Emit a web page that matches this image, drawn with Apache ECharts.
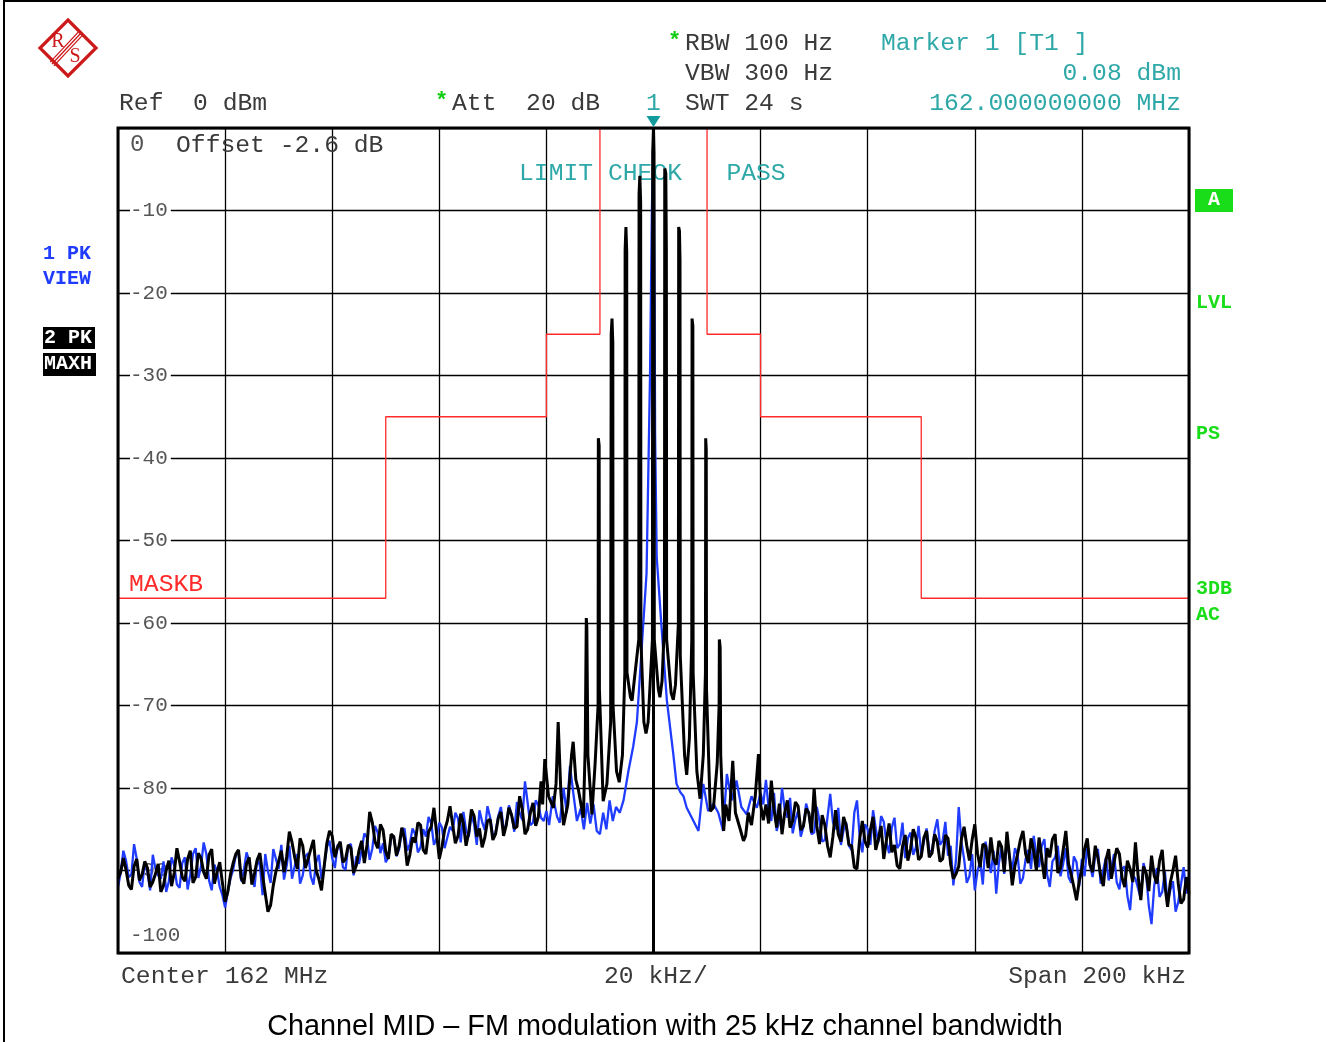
<!DOCTYPE html>
<html><head><meta charset="utf-8">
<script src="https://cdn.jsdelivr.net/npm/echarts@6/dist/echarts.min.js"></script>
<style>html,body{margin:0;padding:0;background:#fff}#c{width:1326px;height:1042px}</style>
</head><body><div id="c"></div>
<script>
// ---------- data (frequency offset in kHz from 162 MHz, level in dBm) ----------
const xTickStep = 20;            // kHz per division
const yTickValues = [0,-10,-20,-30,-40,-50,-60,-70,-80,-90,-100];
const maskFreq  = [-100,-50,-20,-10, 10, 20, 50,100];
const maskLevel = [ -57,-35,-25,  0,-25,-35,-57,-57];
const markerFreq = [0];
const markerLevel = [0.08];

// Trace 1 (blue, PK VIEW)
const trace1Left = [[-100,-92.0],[-99,-87.6],[-98,-90.8],[-97,-86.8],[-96,-91.4],[-95,-89.0],[-94,-92.4],[-93,-89.8],[-92,-91.0],[-91,-92.6],[-90,-88.4],[-89,-91.7],[-88,-89.1],[-87,-92.3],[-86,-88.0],[-85,-90.9],[-84,-86.6],[-83,-91.2],[-82,-89.3],[-81,-92.0],[-80,-94.5],[-79,-91.0],[-78,-88.2],[-77,-91.3],[-76,-87.8],[-75,-90.9],[-74,-88.5],[-73,-93.0],[-72,-90.1],[-71,-87.4],[-70,-89.8],[-69,-91.1],[-68,-87.0],[-67,-89.5],[-66,-91.6],[-65,-88.3],[-64,-90.7],[-63,-89.0],[-62,-91.0],[-61,-87.2],[-60,-88.5],[-59,-86.9],[-58,-89.6],[-57,-87.0],[-56,-90.6],[-55,-89.2],[-54,-85.5],[-53,-88.7],[-52,-84.6],[-51,-87.9],[-50,-89.0],[-49,-86.1],[-48,-88.3],[-47,-85.2],[-46,-87.6],[-45,-84.9],[-44,-87.8],[-43,-85.0],[-42,-83.5],[-41,-86.9],[-40,-84.2],[-39,-87.3],[-38,-84.7],[-37,-83.0],[-36,-86.6],[-35,-85.1],[-34,-83.2],[-33,-86.9],[-32,-84.1],[-31,-82.2],[-30,-85.7],[-29,-83.4],[-28,-84.8],[-27,-82.1],[-26,-85.3],[-25,-83.0],[-24,-79.2],[-23,-84.5],[-22,-81.5],[-21,-83.6],[-20,-82.8]];
const trace1LeftMid = [[-99.5,-90.3],[-98.5,-88.8],[-97.5,-90.5],[-96.5,-88.6],[-95.5,-92.0],[-94.5,-90.2],[-93.5,-88.1],[-92.5,-90.6],[-91.5,-88.9],[-90.5,-91.3],[-89.5,-89.4],[-88.5,-92.1],[-87.5,-88.4],[-86.5,-90.5],[-85.5,-87.3],[-84.5,-89.5],[-83.5,-88.0],[-82.5,-92.4],[-81.5,-90.1],[-80.5,-93.0],[-79.5,-92.6],[-78.5,-89.9],[-77.5,-87.6],[-76.5,-90.0],[-75.5,-88.8],[-74.5,-92.0],[-73.5,-89.4],[-72.5,-88.0],[-71.5,-91.5],[-70.5,-88.6],[-69.5,-86.9],[-68.5,-89.4],[-67.5,-91.0],[-66.5,-88.0],[-65.5,-90.6],[-64.5,-87.9],[-63.5,-91.7],[-62.5,-88.1],[-61.5,-89.6],[-60.5,-86.4],[-59.5,-89.7],[-58.5,-87.1],[-57.5,-89.9],[-56.5,-86.8],[-55.5,-88.3],[-54.5,-87.5],[-53.5,-86.0],[-52.5,-87.3],[-51.5,-85.4],[-50.5,-86.7],[-49.5,-88.4],[-48.5,-85.8],[-47.5,-87.4],[-46.5,-84.9],[-45.5,-86.8],[-44.5,-85.6],[-43.5,-87.2],[-42.5,-85.9],[-41.5,-84.3],[-40.5,-86.1],[-39.5,-84.8],[-38.5,-86.0],[-37.5,-85.2],[-36.5,-83.7],[-35.5,-82.9],[-34.5,-85.9],[-33.5,-84.4],[-32.5,-82.7],[-31.5,-85.1],[-30.5,-83.6],[-29.5,-85.5],[-28.5,-82.3],[-27.5,-84.6],[-26.5,-83.2],[-25.5,-81.7],[-24.5,-83.9],[-23.5,-81.8],[-22.5,-84.2],[-21.5,-82.1],[-20.5,-84.0]];
const trace1Center = [[-19.5,-84.5],[-18.8,-81.0],[-18.0,-83.5],[-17.5,-84.2],[-16.8,-80.0],[-16.2,-83.0],[-15.6,-77.3],[-15.0,-80.5],[-14.3,-84.0],[-13.6,-82.5],[-13.0,-85.0],[-12.4,-81.8],[-11.8,-84.3],[-11.2,-82.0],[-10.6,-85.2],[-10.0,-85.6],[-9.4,-83.0],[-8.8,-85.0],[-8.2,-81.5],[-7.6,-84.0],[-7.0,-82.3],[-6.3,-83.0],[-5.6,-81.5],[-4.7,-78.0],[-3.8,-75.0],[-3.1,-72.0],[-2.5,-66.0],[-1.3,-54.0],[-0.65,-30.0],[-0.3,-10.0],[0,0.08],[0.2,-20.0],[0.3,-37.0],[0.6,-52.0],[1.5,-60.5],[2.5,-69.4],[3.7,-75.9],[4.3,-79.5],[5.0,-80.5],[5.6,-81.0],[6.2,-82.4],[7.3,-83.8],[8.4,-85.2],[9.3,-79.5],[10.2,-82.8],[11.2,-81.9],[12.1,-83.0],[13.0,-85.2],[13.7,-78.3],[14.6,-81.5],[15.5,-79.1],[16.4,-82.3],[17.4,-83.2],[18.3,-81.0],[19.3,-82.4],[20.0,-80.6]];
const trace1Right = [[21,-79.0],[22,-84.0],[23,-85.2],[24,-80.0],[25,-83.6],[26,-85.5],[27,-82.8],[28,-84.7],[29,-83.1],[30,-85.4],[31,-84.0],[32,-86.3],[33,-80.7],[34,-85.0],[35,-86.9],[36,-84.2],[37,-87.5],[38,-81.5],[39,-87.8],[40,-85.0],[41,-82.7],[42,-86.6],[43,-84.1],[44,-87.9],[45,-83.6],[46,-86.8],[47,-88.5],[48,-85.4],[49,-87.2],[50,-88.0],[51,-84.9],[52,-87.7],[53,-83.8],[54,-86.4],[55,-88.2],[56,-91.8],[57,-82.3],[58,-88.6],[59,-90.7],[60,-92.4],[61,-88.9],[62,-86.5],[63,-90.3],[64,-92.8],[65,-87.1],[66,-86.3],[67,-89.9],[68,-88.2],[69,-90.9],[70,-87.5],[71,-85.8],[72,-89.6],[73,-86.2],[74,-92.0],[75,-88.4],[76,-90.7],[77,-87.3],[78,-91.5],[79,-89.0],[80,-88.6],[81,-86.9],[82,-90.8],[83,-87.4],[84,-89.9],[85,-91.2],[86,-88.0],[87,-92.3],[88,-89.5],[89,-94.8],[90,-91.0],[91,-93.4],[92,-90.5],[93,-96.5],[94,-89.7],[95,-92.6],[96,-94.0],[97,-91.3],[98,-93.8],[99,-89.6],[100,-91.0]];
const trace1RightMid = [[20.5,-82.0],[21.5,-82.5],[22.5,-80.6],[23.5,-83.9],[24.5,-82.6],[25.5,-81.2],[26.5,-83.8],[27.5,-85.9],[28.5,-81.9],[29.5,-85.6],[30.5,-82.3],[31.5,-86.5],[32.5,-83.5],[33.5,-84.1],[34.5,-82.4],[35.5,-85.1],[36.5,-87.0],[37.5,-83.0],[38.5,-85.9],[39.5,-84.4],[40.5,-86.9],[41.5,-84.9],[42.5,-83.4],[43.5,-86.6],[44.5,-84.8],[45.5,-87.3],[46.5,-84.2],[47.5,-86.1],[48.5,-88.1],[49.5,-84.6],[50.5,-86.5],[51.5,-87.6],[52.5,-85.2],[53.5,-86.9],[54.5,-84.1],[55.5,-87.0],[56.5,-88.6],[57.5,-86.5],[58.5,-91.5],[59.5,-88.0],[60.5,-90.1],[61.5,-91.7],[62.5,-88.3],[63.5,-87.6],[64.5,-89.1],[65.5,-90.4],[66.5,-88.5],[67.5,-87.3],[68.5,-91.6],[69.5,-88.6],[70.5,-89.8],[71.5,-88.1],[72.5,-87.0],[73.5,-90.5],[74.5,-88.9],[75.5,-87.0],[76.5,-89.2],[77.5,-90.8],[78.5,-88.3],[79.5,-91.9],[80.5,-90.7],[81.5,-89.3],[82.5,-88.1],[83.5,-91.6],[84.5,-88.4],[85.5,-89.7],[86.5,-91.4],[87.5,-89.8],[88.5,-93.1],[89.5,-90.6],[90.5,-92.2],[91.5,-89.1],[92.5,-94.3],[93.5,-91.9],[94.5,-93.2],[95.5,-90.1],[96.5,-92.4],[97.5,-95.0],[98.5,-91.7],[99.5,-92.8]];

// Trace 2 (black, PK MAXH)
const trace2Left = [[-100,-91.0],[-99,-88.5],[-98,-91.8],[-97,-89.5],[-96,-91.2],[-95,-88.9],[-94,-92.0],[-93,-90.4],[-92,-92.6],[-91,-90.0],[-90,-91.9],[-89,-87.3],[-88,-90.8],[-87,-88.6],[-86,-91.5],[-85,-87.9],[-84,-90.2],[-83,-88.1],[-82,-91.6],[-81,-89.0],[-80,-93.8],[-79,-90.5],[-78,-88.0],[-77,-90.9],[-76,-89.2],[-75,-91.7],[-74,-88.7],[-73,-90.6],[-72,-95.0],[-71,-91.8],[-70,-88.9],[-69,-90.2],[-68,-85.3],[-67,-88.4],[-66,-86.1],[-65,-89.7],[-64,-87.4],[-63,-90.0],[-62,-92.4],[-61,-86.7],[-60,-85.8],[-59,-87.2],[-58,-89.0],[-57,-86.9],[-56,-90.3],[-55,-87.6],[-54,-89.1],[-53,-82.9],[-52,-86.5],[-51,-84.4],[-50,-87.7],[-49,-85.6],[-48,-88.2],[-47,-84.8],[-46,-89.4],[-45,-86.0],[-44,-84.2],[-43,-87.5],[-42,-85.3],[-41,-82.4],[-40,-88.6],[-39,-85.1],[-38,-82.2],[-37,-86.7],[-36,-83.1],[-35,-87.0],[-34,-82.6],[-33,-85.9],[-32,-87.2],[-31,-84.0],[-30,-86.3],[-29,-83.7],[-28,-85.8],[-27,-82.4],[-26,-84.9],[-25,-81.0],[-24,-85.6],[-23,-83.0],[-22,-84.6],[-21,-79.2]];
const trace2LeftMid = [[-99.5,-90.2],[-98.5,-89.9],[-97.5,-92.3],[-96.5,-88.6],[-95.5,-90.5],[-94.5,-89.7],[-93.5,-91.4],[-92.5,-89.2],[-91.5,-91.8],[-90.5,-88.8],[-89.5,-90.3],[-88.5,-88.9],[-87.5,-91.3],[-86.5,-87.6],[-85.5,-90.8],[-84.5,-88.5],[-83.5,-91.0],[-82.5,-87.4],[-81.5,-90.2],[-80.5,-91.5],[-79.5,-92.6],[-78.5,-89.1],[-77.5,-87.5],[-76.5,-91.6],[-75.5,-88.4],[-74.5,-90.3],[-73.5,-87.9],[-72.5,-92.8],[-71.5,-94.2],[-70.5,-90.1],[-69.5,-87.6],[-68.5,-88.3],[-67.5,-86.6],[-66.5,-89.8],[-65.5,-87.0],[-64.5,-88.6],[-63.5,-86.3],[-62.5,-91.0],[-61.5,-89.5],[-60.5,-85.2],[-59.5,-88.4],[-58.5,-86.5],[-57.5,-88.6],[-56.5,-87.3],[-55.5,-89.4],[-54.5,-86.4],[-53.5,-86.9],[-52.5,-84.2],[-51.5,-87.3],[-50.5,-85.1],[-49.5,-88.6],[-48.5,-85.9],[-47.5,-87.0],[-46.5,-86.2],[-45.5,-88.1],[-44.5,-86.6],[-43.5,-84.5],[-42.5,-88.0],[-41.5,-84.7],[-40.5,-85.5],[-39.5,-87.1],[-38.5,-84.0],[-37.5,-84.5],[-36.5,-85.8],[-35.5,-84.3],[-34.5,-85.4],[-33.5,-83.4],[-32.5,-84.9],[-31.5,-86.0],[-30.5,-83.8],[-29.5,-85.6],[-28.5,-82.9],[-27.5,-84.5],[-26.5,-83.3],[-25.5,-84.7],[-24.5,-82.6],[-23.5,-85.0],[-22.5,-81.8],[-21.5,-83.5],[-20.7,-82.0]];
const trace2Center = [[-20.3,-76.5],[-19.6,-81.0],[-18.7,-82.4],[-18.2,-79.5],[-17.8,-72.0],[-17.3,-80.5],[-16.8,-84.5],[-16.0,-82.0],[-15.3,-76.0],[-15.0,-74.4],[-14.5,-79.0],[-14.0,-80.3],[-13.1,-83.6],[-12.75,-75.0],[-12.55,-59.4],[-12.45,-60.5],[-12.25,-76.0],[-11.5,-83.2],[-10.9,-77.0],[-10.35,-70.0],[-10.3,-37.6],[-10.15,-38.5],[-10.1,-68.0],[-9.4,-81.6],[-8.7,-79.5],[-8.0,-72.0],[-7.9,-25.0],[-7.75,-23.1],[-7.6,-26.0],[-7.55,-70.0],[-6.9,-78.0],[-6.4,-79.3],[-5.8,-76.0],[-5.35,-66.0],[-5.3,-14.8],[-5.15,-12.0],[-5.0,-15.0],[-4.95,-66.0],[-4.3,-69.0],[-4.0,-69.4],[-3.6,-67.0],[-2.75,-62.0],[-2.7,-8.0],[-2.55,-5.8],[-2.4,-9.0],[-2.35,-62.0],[-1.8,-72.0],[-1.4,-73.4],[-1.0,-72.0],[-0.2,-62.0],[-0.15,-3.0],[0,0.08],[0.1,-3.0],[0.15,-62.0],[0.9,-68.0],[1.2,-69.0],[1.6,-67.0],[2.05,-60.0],[2.1,-4.9],[2.3,-5.5],[2.4,-14.8],[2.45,-62.0],[3.3,-68.5],[3.7,-69.3],[4.1,-67.5],[4.65,-60.0],[4.7,-12.0],[4.85,-12.5],[4.95,-16.0],[5.0,-64.0],[5.8,-76.0],[6.2,-78.4],[6.7,-74.0],[7.15,-62.0],[7.2,-23.1],[7.35,-24.0],[7.4,-66.0],[8.1,-78.0],[8.7,-81.3],[9.3,-76.0],[9.7,-66.0],[9.75,-37.6],[9.85,-39.0],[9.9,-68.0],[10.6,-82.8],[11.2,-82.4],[11.9,-77.0],[12.25,-70.0],[12.3,-62.0],[12.45,-63.0],[12.55,-76.0],[13.1,-85.2],[13.5,-82.0],[14.1,-84.0],[14.8,-76.7],[15.3,-83.0],[16.2,-85.0],[16.8,-86.4],[17.2,-85.8],[17.7,-83.0],[18.3,-84.5],[19.0,-81.0],[19.6,-75.9],[20.0,-82.0],[20.5,-83.9]];
const trace2Right = [[21,-82.0],[22,-79.1],[23,-84.8],[24,-85.6],[25,-81.5],[26,-84.0],[27,-82.2],[28,-84.6],[29,-83.0],[30,-80.0],[31,-86.8],[32,-84.5],[33,-88.4],[34,-82.7],[35,-86.5],[36,-84.6],[37,-87.0],[38,-89.8],[39,-84.0],[40,-87.2],[41,-83.5],[42,-86.2],[43,-88.6],[44,-84.3],[45,-86.9],[46,-89.8],[47,-85.7],[48,-87.4],[49,-86.0],[50,-88.3],[51,-85.2],[52,-87.9],[53,-86.5],[54,-88.6],[55,-86.1],[56,-91.0],[57,-89.5],[58,-84.7],[59,-88.8],[60,-84.4],[61,-89.6],[62,-87.0],[63,-86.0],[64,-89.3],[65,-87.1],[66,-85.3],[67,-91.8],[68,-88.0],[69,-85.2],[70,-89.1],[71,-87.6],[72,-86.0],[73,-91.0],[74,-88.4],[75,-85.6],[76,-89.7],[77,-85.2],[78,-90.5],[79,-93.6],[80,-89.8],[81,-86.1],[82,-90.2],[83,-88.5],[84,-91.9],[85,-87.4],[86,-89.0],[87,-88.0],[88,-92.0],[89,-89.8],[90,-86.6],[91,-93.6],[92,-90.3],[93,-88.2],[94,-91.6],[95,-87.5],[96,-94.4],[97,-90.0],[98,-91.6],[99,-93.5],[100,-92.8]];
const trace2RightMid = [[21.5,-84.3],[22.5,-82.6],[23.5,-81.9],[24.5,-83.0],[25.5,-84.8],[26.5,-81.7],[27.5,-85.1],[28.5,-82.5],[29.5,-85.4],[30.5,-84.6],[31.5,-83.3],[32.5,-87.0],[33.5,-85.9],[34.5,-85.6],[35.5,-83.5],[36.5,-86.9],[37.5,-89.6],[38.5,-86.2],[39.5,-86.5],[40.5,-85.1],[41.5,-87.5],[42.5,-84.6],[43.5,-86.3],[44.5,-87.8],[45.5,-89.4],[46.5,-87.1],[47.5,-88.8],[48.5,-85.0],[49.5,-88.7],[50.5,-86.0],[51.5,-88.4],[52.5,-85.6],[53.5,-88.9],[54.5,-85.7],[55.5,-89.3],[56.5,-90.4],[57.5,-86.2],[58.5,-87.0],[59.5,-86.3],[60.5,-87.9],[61.5,-86.8],[62.5,-89.7],[63.5,-88.6],[64.5,-86.4],[65.5,-90.2],[66.5,-88.4],[67.5,-89.4],[68.5,-86.3],[69.5,-88.0],[70.5,-86.1],[71.5,-90.0],[72.5,-88.5],[73.5,-87.3],[74.5,-86.2],[75.5,-90.3],[76.5,-87.5],[77.5,-89.2],[78.5,-92.0],[79.5,-91.3],[80.5,-87.4],[81.5,-89.3],[82.5,-87.0],[83.5,-90.6],[84.5,-88.7],[85.5,-91.0],[86.5,-87.3],[87.5,-90.9],[88.5,-88.8],[89.5,-91.4],[90.5,-90.7],[91.5,-89.5],[92.5,-92.5],[93.5,-90.6],[94.5,-88.8],[95.5,-91.8],[96.5,-91.5],[97.5,-88.2],[98.5,-94.0],[99.5,-90.8]];

// ---------- chart ----------
const MONO = '"Liberation Mono", "DejaVu Sans Mono", monospace';
const MONO_FONT = '24.7px ' + MONO;
const GRAY = '#3a3a3a', TEAL = '#2fa8a8', GREEN = '#19dd19', BLUE = '#1f3cff', RED = '#ff2a2a';
const chart = echarts.init(document.getElementById('c'), null, {renderer: 'canvas'});

const byFreq = (a, b) => a[0] - b[0];
const maskData = maskFreq.map((f, i) => [f, maskLevel[i]]);
const trace1 = trace1Left.concat(trace1LeftMid, trace1Center, trace1Right, trace1RightMid).sort(byFreq);
const trace2 = trace2Left.concat(trace2LeftMid, trace2Center, trace2Right, trace2RightMid).sort(byFreq);

chart.setOption({
  animation: false,
  backgroundColor: '#fff',
  grid: {left: 118, top: 128, width: 1071, height: 825, show: true, borderColor: '#000', borderWidth: 3, backgroundColor: 'transparent', z: 5},
  xAxis: {type: 'value', min: -100, max: 100, interval: xTickStep,
    axisLine: {show: false}, axisTick: {show: false}, axisLabel: {show: false},
    splitLine: {show: true, lineStyle: {color: '#000', width: 1.3}}},
  yAxis: {type: 'value', min: -100, max: 0, interval: 10,
    axisLine: {show: false}, axisTick: {show: false},
    splitLine: {show: true, lineStyle: {color: '#000', width: 1.3}},
    axisLabel: {inside: true, margin: 12, color: '#555', fontFamily: MONO, fontSize: 21,
      formatter: v => v === yTickValues[0] ? '{t|' + v + '}' : (v === yTickValues[yTickValues.length-1] ? '{b|' + v + '}' : '{n|' + v + '}'),
      rich: {
        n: {fontFamily: MONO, fontSize: 21, color: '#555', backgroundColor: '#fff', padding: [0, 3, 0, 0]},
        t: {fontFamily: MONO, fontSize: 24, color: '#555', padding: [34, 0, 0, 0]},
        b: {fontFamily: MONO, fontSize: 21, color: '#555', padding: [0, 0, 36, 0]}
      }}},
  series: [
    {type: 'line', name: 'mask', data: maskData, step: 'end', showSymbol: false, symbol: 'none',
      lineStyle: {color: RED, width: 1.3}, z: 2, silent: true},
    {type: 'line', name: 'trace1', data: trace1, showSymbol: false, symbol: 'none',
      lineStyle: {color: BLUE, width: 2.3}, z: 3, silent: true},
    {type: 'line', name: 'trace2', data: trace2, showSymbol: false, symbol: 'none',
      lineStyle: {color: '#000', width: 3}, z: 4, silent: true,
      markLine: {silent: true, symbol: 'none', label: {show: false},
        lineStyle: {color: '#000', width: 3, type: 'solid'},
        data: [{xAxis: markerFreq[0]}]}}
  ]
});

const mx = chart.convertToPixel({xAxisIndex: 0}, markerFreq[0]);
function T(text, x, y, opt) {
  opt = opt || {};
  return {type: 'text', z: opt.z == null ? 10 : opt.z, silent: true,
    style: {text: text, x: x, y: y, fill: opt.fill || GRAY,
      font: opt.font || MONO_FONT, align: opt.align || 'left', textAlign: opt.align || 'left',
      verticalAlign: 'middle', textVerticalAlign: 'middle'}};
}
const boldSide = 'bold 20px ' + MONO;
const ln = [];
const cx = 68, cy = 48;
[-2.6, 0, 2.6].forEach(o => {
  const d = o / Math.SQRT2;
  ln.push({type: 'line', silent: true, z: 10, shape: {x1: 81 + d, y1: 33 + d, x2: 52 + d, y2: 64 + d}, style: {stroke: '#cc1a1a', lineWidth: 1.3}});
});
const graphics = [
  // page border
  {type: 'line', silent: true, z: 10, shape: {x1: 4, y1: 0, x2: 4, y2: 1042}, style: {stroke: '#000', lineWidth: 2}},
  {type: 'line', silent: true, z: 10, shape: {x1: 3, y1: 1, x2: 1326, y2: 1}, style: {stroke: '#000', lineWidth: 2}},
  // logo
  {type: 'polygon', silent: true, z: 10, shape: {points: [[cx, 20], [96, cy], [cx, 76], [40, cy]]}, style: {fill: 'none', stroke: '#cc1a1a', lineWidth: 3.2}},
  ...ln,
  T('R', 58, 42, {fill: '#cc1a1a', font: '20px "Liberation Serif", serif', align: 'center'}),
  T('S', 75, 57, {fill: '#cc1a1a', font: '20px "Liberation Serif", serif', align: 'center'}),
  // header
  T('*', 668, 41, {fill: '#11cc11', font: 'bold 22px ' + MONO}),
  T('RBW 100 Hz', 685, 43),
  T('VBW 300 Hz', 685, 73),
  T('SWT 24 s', 685, 103),
  T('Marker 1 [T1 ]', 881, 43, {fill: TEAL}),
  T(markerLevel[0].toFixed(2) + ' dBm', 1181, 73, {fill: TEAL, align: 'right'}),
  T('162.000000000 MHz', 1181, 103, {fill: TEAL, align: 'right'}),
  T('Ref  0 dBm', 119, 103),
  T('*', 435, 101, {fill: '#11cc11', font: 'bold 22px ' + MONO}),
  T('Att  20 dB', 452, 103),
  T('1', mx, 103, {fill: TEAL, align: 'center'}),
  {type: 'polygon', silent: true, z: 12, shape: {points: [[mx - 7, 116], [mx + 7, 116], [mx, 127]]}, style: {fill: '#139b9b'}},
  // inside plot
  T('Offset -2.6 dB', 176, 145, {fill: GRAY, z: 1}),
  T('LIMIT CHECK   PASS', 519, 173, {fill: TEAL, z: 1}),
  T('MASKB', 129, 584, {fill: RED, z: 1}),
  // left side
  T('1 PK', 43, 254, {fill: BLUE, font: boldSide}),
  T('VIEW', 43, 279, {fill: BLUE, font: boldSide}),
  {type: 'rect', silent: true, z: 10, shape: {x: 43, y: 327, width: 52, height: 22}, style: {fill: '#000'}},
  T('2 PK', 44, 338, {fill: '#fff', font: boldSide, z: 11}),
  {type: 'rect', silent: true, z: 10, shape: {x: 43, y: 353, width: 53, height: 23}, style: {fill: '#000'}},
  T('MAXH', 44, 364, {fill: '#fff', font: boldSide, z: 11}),
  // right side
  {type: 'rect', silent: true, z: 10, shape: {x: 1195, y: 189, width: 38, height: 23}, style: {fill: '#19dd19'}},
  T('A', 1214, 200, {fill: '#fff', font: boldSide, align: 'center', z: 11}),
  T('LVL', 1196, 303, {fill: GREEN, font: boldSide}),
  T('PS', 1196, 434, {fill: GREEN, font: boldSide}),
  T('3DB', 1196, 589, {fill: GREEN, font: boldSide}),
  T('AC', 1196, 615, {fill: GREEN, font: boldSide}),
  // bottom
  T('Center 162 MHz', 121, 976),
  T(xTickStep + ' kHz/', 604, 976),
  T('Span 200 kHz', 1186, 976, {align: 'right'}),
  T('Channel MID \u2013 FM modulation with 25 kHz channel bandwidth', 665, 1027,
    {fill: '#000', font: '28.8px "Liberation Sans", Arial, sans-serif', align: 'center'})
];
chart.setOption({graphic: graphics});
</script>
</body></html>
